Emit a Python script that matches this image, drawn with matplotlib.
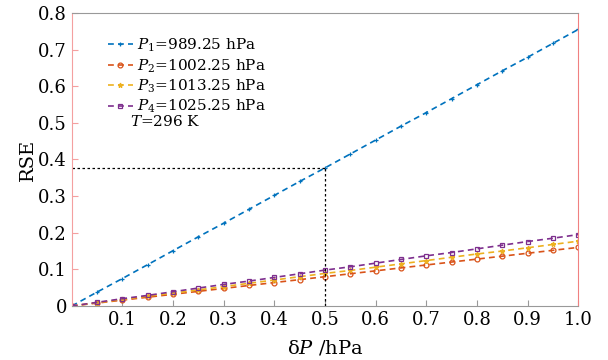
import numpy as np
import matplotlib
matplotlib.use("Agg")
import matplotlib.pyplot as plt

plt.rcParams["font.family"] = ["DejaVu Serif"]
plt.rcParams["mathtext.fontset"] = "dejavuserif"

dP = [0.00, 0.05, 0.10, 0.15, 0.20, 0.25, 0.30, 0.35, 0.40, 0.45, 0.50,
      0.55, 0.60, 0.65, 0.70, 0.75, 0.80, 0.85, 0.90, 0.95, 1.00]
rse_p1 = [0, 0.038, 0.075, 0.113, 0.151, 0.189, 0.226, 0.264, 0.302, 0.340, 0.377,
          0.415, 0.453, 0.491, 0.528, 0.566, 0.604, 0.642, 0.679, 0.717, 0.755]
rse_p2 = [0, 0.008, 0.016, 0.024, 0.032, 0.040, 0.048, 0.056, 0.064, 0.072, 0.080,
          0.088, 0.096, 0.104, 0.112, 0.120, 0.128, 0.136, 0.144, 0.152, 0.160]
rse_p3 = [0, 0.009, 0.018, 0.027, 0.035, 0.044, 0.053, 0.062, 0.071, 0.080, 0.089,
          0.097, 0.106, 0.115, 0.124, 0.133, 0.142, 0.150, 0.159, 0.168, 0.177]
rse_p4 = [0, 0.010, 0.020, 0.029, 0.039, 0.049, 0.059, 0.068, 0.078, 0.088, 0.098,
          0.107, 0.117, 0.127, 0.137, 0.146, 0.156, 0.166, 0.176, 0.185, 0.195]
labels = [r"$P_1$=989.25 hPa", r"$P_2$=1002.25 hPa", r"$P_3$=1013.25 hPa", r"$P_4$=1025.25 hPa"]
colors = ["#0072BD", "#D95319", "#EDB120", "#7E2F8E"]
markers = ["+", "o", "*", "s"]
mark_x, mark_y = 0.5, 0.377

fig = plt.figure(figsize=(6.08, 3.6), dpi=100)
ax = fig.add_axes([0.118, 0.15, 0.833, 0.814])

for y, lab, c, m in zip([rse_p1, rse_p2, rse_p3, rse_p4], labels, colors, markers):
    ax.plot(dP, y, ls=(0, (3.5, 2.5)), color=c, lw=1.2, marker=m, ms=3.5,
            mfc="none" if m in "os" else c, mew=0.9, label=lab)

ax.plot([0, mark_x], [mark_y, mark_y], ls=(0, (2, 2)), color="black", lw=0.9)
ax.plot([mark_x, mark_x], [0, mark_y], ls=(0, (2, 2)), color="black", lw=0.9)

ax.set_xlim(0, 1)
ax.set_ylim(0, 0.8)
ax.set_xticks(np.arange(0.1, 1.01, 0.1))
ax.set_xticklabels([f"{v:.1f}" for v in np.arange(0.1, 1.01, 0.1)])
ax.set_yticks(np.arange(0, 0.81, 0.1))
ax.set_yticklabels(["0"] + [f"{v:.1f}" for v in np.arange(0.1, 0.81, 0.1)])
ax.tick_params(direction="in", labelsize=13, length=4)
ax.tick_params(axis="y", colors="#f4a0a0", labelcolor="black")
ax.tick_params(axis="x", colors="#999999", labelcolor="black")
ax.spines["left"].set_color("#f4a0a0")
ax.spines["right"].set_color("#f08080")
ax.spines["top"].set_color("#999999")
ax.spines["bottom"].set_color("#999999")
ax.set_xlabel(r"δ$P$ /hPa", fontsize=14, labelpad=7)
ax.set_ylabel("RSE", fontsize=14, labelpad=1)

leg = ax.legend(loc="upper left", bbox_to_anchor=(0.06, 0.94), frameon=False, fontsize=11,
                handlelength=1.6, handletextpad=0.3, labelspacing=0.2, borderaxespad=0)
ax.text(0.115, 0.628, r"$T$=296 K", fontsize=11, va="center", transform=ax.transAxes)

fig.savefig("out.png", dpi=100)
